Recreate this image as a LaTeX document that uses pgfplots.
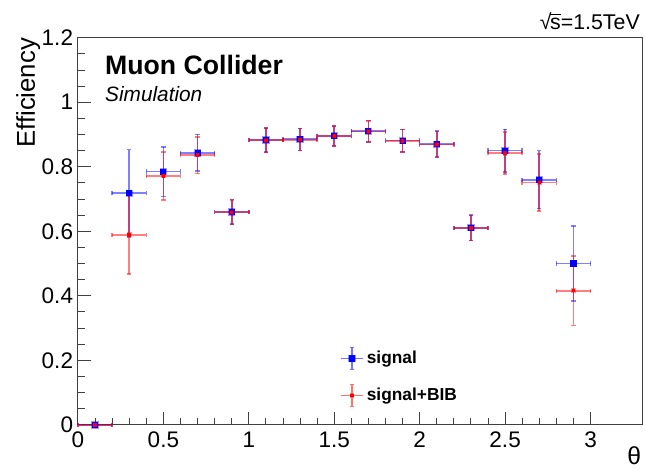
\documentclass[border=0pt]{standalone}
\usepackage{pgfplots}
\pgfplotsset{compat=1.18}
\usepackage{pgfplotstable}
\usepackage{fontspec}
\setmainfont{Liberation Sans}

\pgfplotstableread{
x y ex ey
0.1 0.000 0.1 0.000
0.3 0.718 0.1 0.135
0.5 0.785 0.1 0.077
0.7 0.843 0.1 0.057
0.9 0.660 0.1 0.038
1.1 0.883 0.1 0.038
1.3 0.885 0.1 0.034
1.5 0.896 0.1 0.031
1.7 0.910 0.1 0.033
1.9 0.881 0.1 0.035
2.1 0.870 0.1 0.040
2.3 0.611 0.1 0.039
2.5 0.850 0.1 0.066
2.7 0.760 0.1 0.090
2.9 0.500 0.1 0.117
}\signaltable

\pgfplotstableread{
x y ex ey
0.1 0.000 0.1 0.000
0.3 0.589 0.1 0.122
0.5 0.771 0.1 0.074
0.7 0.836 0.1 0.057
0.9 0.659 0.1 0.038
1.1 0.882 0.1 0.038
1.3 0.884 0.1 0.034
1.5 0.895 0.1 0.031
1.7 0.909 0.1 0.033
1.9 0.880 0.1 0.035
2.1 0.869 0.1 0.040
2.3 0.610 0.1 0.039
2.5 0.842 0.1 0.065
2.7 0.751 0.1 0.088
2.9 0.416 0.1 0.108
}\bibtable

\begin{document}
\begin{tikzpicture}
\begin{axis}[
  scale only axis,
  width=423.75pt, height=290.5pt,
  xmin=0, xmax=3.305, ymin=0, ymax=1.2,
  xtick={0,0.5,...,3}, ytick={0,0.2,...,1.2},
  minor x tick num=4, minor y tick num=3,
  xtick pos=lower, ytick pos=left,
  tick align=inside,
  major tick length=10pt, minor tick length=5pt,
  axis line style={black!75, line width=0.8pt},
  tick style={black!75, line width=0.7pt},
  /pgf/number format/assume math mode=true,
  tick label style={font=\fontsize{16.9}{18}\selectfont, inner sep=0pt},
  yticklabel style={xshift=-3.5pt},
  xticklabel style={yshift=-5pt},
  clip=false,
  xlabel={θ},
  xlabel style={at={([xshift=-1pt,yshift=-16.5pt]rel axis cs:1,0)}, anchor=north east, inner sep=0pt, font=\fontsize{18.5}{20}\selectfont},
  ylabel={Efficiency},
  ylabel style={at={([xshift=-32.25pt]rel axis cs:0,1)}, rotate=0, anchor=base east, inner sep=0pt, font=\fontsize{19.3}{20}\selectfont},
  legend style={at={(axis cs:1.531,0.243)}, anchor=north west, draw=none, fill=none,
     font=\fontsize{13}{14}\selectfont\bfseries, row sep=10pt, inner sep=0pt,
     nodes={inner sep=2pt}},
  legend cell align=left,
  legend image code/.code={
    \draw[#1, opacity=0.55, line width=1.2pt] (0cm,0cm) -- (0.6cm,0cm)
       (0.3cm,-0.29cm) -- (0.3cm,0.29cm)
       (0.25cm,-0.29cm) -- (0.35cm,-0.29cm) (0.25cm,0.29cm) -- (0.35cm,0.29cm);
    \draw[#1] plot coordinates {(0.3cm,0cm)};
  },
]
\addplot[blue, only marks, mark=square*, mark size=2.3pt,
  mark options={fill=blue, draw=blue, draw opacity=0.4, line width=0.9pt},
  error bars/.cd, x dir=both, x explicit, y dir=both, y explicit,
  error bar style={blue, opacity=0.5, line width=1.3pt},
  error mark options={rotate=90, blue, opacity=0.5, mark size=1.6pt, line width=1.2pt}]
  table[x=x, y=y, x error=ex, y error=ey] {\signaltable};
\addlegendentry{signal}
\addplot[red, only marks, mark=square*, mark size=1.3pt,
  mark options={fill=red, draw=red, draw opacity=0.4, line width=0.9pt},
  error bars/.cd, x dir=both, x explicit, y dir=both, y explicit,
  error bar style={red, opacity=0.5, line width=1.3pt},
  error mark options={rotate=90, red, opacity=0.5, mark size=1.6pt, line width=1.2pt}]
  table[x=x, y=y, x error=ex, y error=ey] {\bibtable};
\addlegendentry{signal+BIB}
\node[anchor=base west, inner sep=0pt, font=\fontsize{20}{22}\selectfont\bfseries] at (axis cs:0.158,1.087) {Muon Collider};
\node[anchor=base west, inner sep=0pt, font=\fontsize{15.6}{17}\selectfont\itshape] at (axis cs:0.158,1.0016) {Simulation};
\node[anchor=base east, inner sep=0pt, font=\fontsize{16}{18}\selectfont] at ([xshift=-2pt,yshift=6.5pt]rel axis cs:1,1) {√\kern-0.06em\rlap{\rule[0.64em]{0.52em}{0.055em}}s=1.5TeV};
\end{axis}
\pgfresetboundingbox
\path ([shift={(-58.5pt,-35.25pt)}]current axis.south west) rectangle ([shift={(2.5pt,28.3pt)}]current axis.north east);
\end{tikzpicture}
\end{document}
